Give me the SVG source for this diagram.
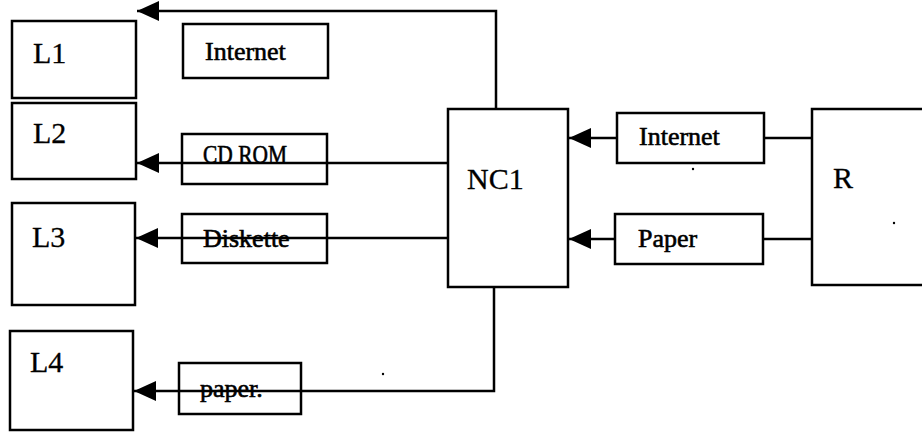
<svg xmlns="http://www.w3.org/2000/svg" width="922" height="432" viewBox="0 0 922 432">
<style>
.box{fill:#fff;stroke:#000;stroke-width:2.5}
.open{fill:none}
.big{font-family:"Liberation Serif","Times New Roman",serif;font-size:30px;fill:#000;stroke:#000;stroke-width:0.3}
.sm{font-family:"Liberation Serif","Times New Roman",serif;font-size:26px;fill:#000;stroke:#000;stroke-width:0.6}
.ln{fill:none;stroke:#000;stroke-width:2.5}
</style>
<defs>
<marker id="ah" markerWidth="22" markerHeight="20" refX="22" refY="10" orient="auto" markerUnits="userSpaceOnUse">
<path d="M0,0 L22,10 L0,20 Z" fill="#000"/>
</marker>
</defs>
<rect width="922" height="432" fill="#fff"/>
<g id="L1"><rect class="box" x="12" y="21" width="124" height="77"/><text class="big" x="33" y="63">L1</text></g>
<g id="L2"><rect class="box" x="12" y="103" width="124" height="76"/><text class="big" x="33" y="143">L2</text></g>
<g id="L3"><rect class="box" x="12" y="203" width="123" height="102"/><text class="big" x="32" y="247">L3</text></g>
<g id="L4"><rect class="box" x="10" y="331" width="123" height="99"/><text class="big" x="30" y="372">L4</text></g>
<g id="NC1"><rect class="box" x="448" y="109" width="120" height="178"/><text class="big" x="467" y="189">NC1</text></g>
<g id="R"><rect class="box" x="812" y="109" width="120" height="176"/><text class="big" x="833" y="188">R</text></g>
<g id="connectors">
<polyline class="ln" points="496,109 496,11 137,11" marker-end="url(#ah)"/>
<line class="ln" x1="448" y1="163" x2="137" y2="163" marker-end="url(#ah)"/>
<line class="ln" x1="448" y1="238" x2="136" y2="238" marker-end="url(#ah)"/>
<polyline class="ln" points="494,287 494,391 134,391" marker-end="url(#ah)"/>
<line class="ln" x1="812" y1="138" x2="569" y2="138" marker-end="url(#ah)"/>
<line class="ln" x1="812" y1="239" x2="569" y2="239" marker-end="url(#ah)"/>
</g>
<g id="lbl-internet-top"><rect class="box" x="183" y="24" width="145" height="54"/><text class="sm" x="205" y="60">Internet</text></g>
<g id="lbl-cdrom"><rect class="box open" x="182" y="134" width="145" height="50"/><text class="sm" x="203" y="163" textLength="84" lengthAdjust="spacingAndGlyphs">CD ROM</text></g>
<g id="lbl-diskette"><rect class="box open" x="182" y="214" width="145" height="49"/><text class="sm" x="203" y="247">Diskette</text></g>
<g id="lbl-paper-low"><rect class="box open" x="179" y="363" width="122" height="51"/><text class="sm" x="200" y="397">paper.</text></g>
<g id="lbl-internet-r"><rect class="box" x="617" y="113" width="147" height="50"/><text class="sm" x="639" y="145">Internet</text></g>
<g id="lbl-paper-r"><rect class="box" x="615" y="214" width="148" height="50"/><text class="sm" x="638" y="247">Paper</text></g>
<circle cx="693" cy="169" r="1.2" fill="#000"/>
<circle cx="894" cy="223" r="1.2" fill="#000"/>
<circle cx="383" cy="374" r="1.2" fill="#000"/>
</svg>
